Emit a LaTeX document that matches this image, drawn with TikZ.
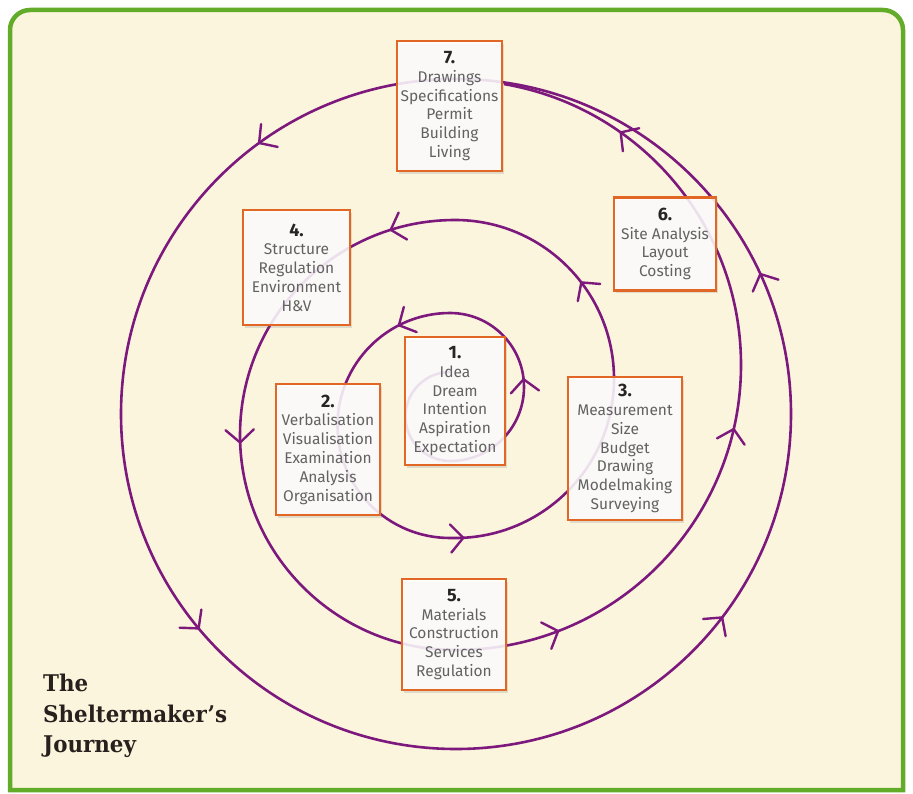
\documentclass[tikz,border=0pt]{standalone}
\usepackage{fontspec}
\setmainfont{Fira Sans}
\newfontfamily\titlefont[FakeStretch=0.93]{DejaVu Serif}
\usetikzlibrary{shadows}
\definecolor{cream}{RGB}{251,245,222}
\definecolor{framegreen}{RGB}{98,172,42}
\definecolor{spiralc}{RGB}{125,25,125}
\definecolor{boxorange}{RGB}{226,102,36}
\definecolor{boxtext}{RGB}{98,98,98}
\definecolor{numtext}{RGB}{40,36,36}
\definecolor{titletext}{RGB}{40,32,28}
% chevron on an arc: centre x, centre y, radius, angle
\newcommand\chev[4]{\path (#1,#2) ++(#4:#3pt) coordinate (tip);
  \draw[chevline] (tip) -- ++(#4+222:19pt) (tip) -- ++(#4+318:19pt);}
\newcommand\num[1]{{\fontsize{18}{19}\selectfont\bfseries\color{numtext}#1}}
\begin{document}
\begin{tikzpicture}[x=1pt,y=-1pt,
  spiralline/.style={draw=spiralc, line width=2.6pt},
  chevline/.style={draw=spiralc, line width=2.4pt, line cap=round},
  stagebox/.style={draw=boxorange, line width=2.4pt, fill=white, fill opacity=0.86, text opacity=1,
    text=boxtext, align=center, inner sep=0pt, font=\fontsize{15.5}{18.8}\selectfont,
    drop shadow={shadow xshift=2pt, shadow yshift=-3pt, opacity=0.18, fill=black!60}},
  titlenode/.style={align=left, inner sep=0pt, text=titletext, font=\titlefont\bfseries\fontsize{23}{30.5}\selectfont}]
\useasboundingbox (0,0) rectangle (913,794);
\fill[white] (0,0) rectangle (913,794);
\draw[framegreen, line width=4.5pt, fill=cream] (10,790) -- (10,30)
  arc[start angle=180, end angle=90, radius=20pt] -- (883,10)
  arc[start angle=90, end angle=0, radius=20pt] -- (903,790) -- cycle;

% main spiral, built from half circles
\draw[spiralline] (450,372) arc[start angle=90, end angle=270, radius=44.5pt]
  arc[start angle=270, end angle=450, radius=74pt]
  arc[start angle=90, end angle=270, radius=112.5pt]
  -- (455,538) arc[start angle=270, end angle=450, radius=159pt]
  arc[start angle=90, end angle=270, radius=215pt]
  -- (456,650) arc[start angle=270, end angle=440.3, radius=285pt];
% outer loop
\draw[spiralline] (456,414) circle[radius=335pt];

% arrows along the spiral
\chev{450}{387}{74}{6}
\chev{450}{425.5}{112.5}{117}
\chev{455}{379}{159}{273}
\chev{455}{379}{159}{37.4}
\chev{455}{435}{215}{107.4}
\chev{455}{435}{215}{182}
\chev{456}{365}{285}{291}
\chev{456}{365}{285}{347}
\chev{456}{365}{285}{54.7}
\chev{456}{414}{335}{126}
\chev{456}{414}{335}{219.8}
\chev{456}{414}{335}{322.6}
\chev{456}{414}{335}{24.7}

\node[stagebox, minimum width=105pt, minimum height=130pt] (b7) at (449.5,106)
  {\num{7.}\\Drawings\\Specifications\\Permit\\Building\\Living};
\node[stagebox, minimum width=107pt, minimum height=115pt] (b4) at (296.5,267.5)
  {\num{4.}\\Structure\\Regulation\\Environment\\H\&V};
\node[stagebox, minimum width=102pt, minimum height=93pt] (b6) at (665,244)
  {\num{6.}\\Site Analysis\\Layout\\Costing};
\node[stagebox, minimum width=100pt, minimum height=128pt] (b1) at (455,401)
  {\num{1.}\\Idea\\Dream\\Intention\\Aspiration\\Expectation};
\node[stagebox, minimum width=104pt, minimum height=131pt] (b2) at (328,449.5)
  {\num{2.}\\Verbalisation\\Visualisation\\Examination\\Analysis\\Organisation};
\node[stagebox, minimum width=114pt, minimum height=143pt] (b3) at (625,448.5)
  {\num{3.}\\Measurement\\Size\\Budget\\Drawing\\Modelmaking\\Surveying};
\node[stagebox, minimum width=104pt, minimum height=111pt] (b5) at (454,634.5)
  {\num{5.}\\Materials\\Construction\\Services\\Regulation};

\node[titlenode, anchor=north west] (title) at (43,674) {The\\Sheltermaker’s\\Journey};
\end{tikzpicture}
\end{document}
